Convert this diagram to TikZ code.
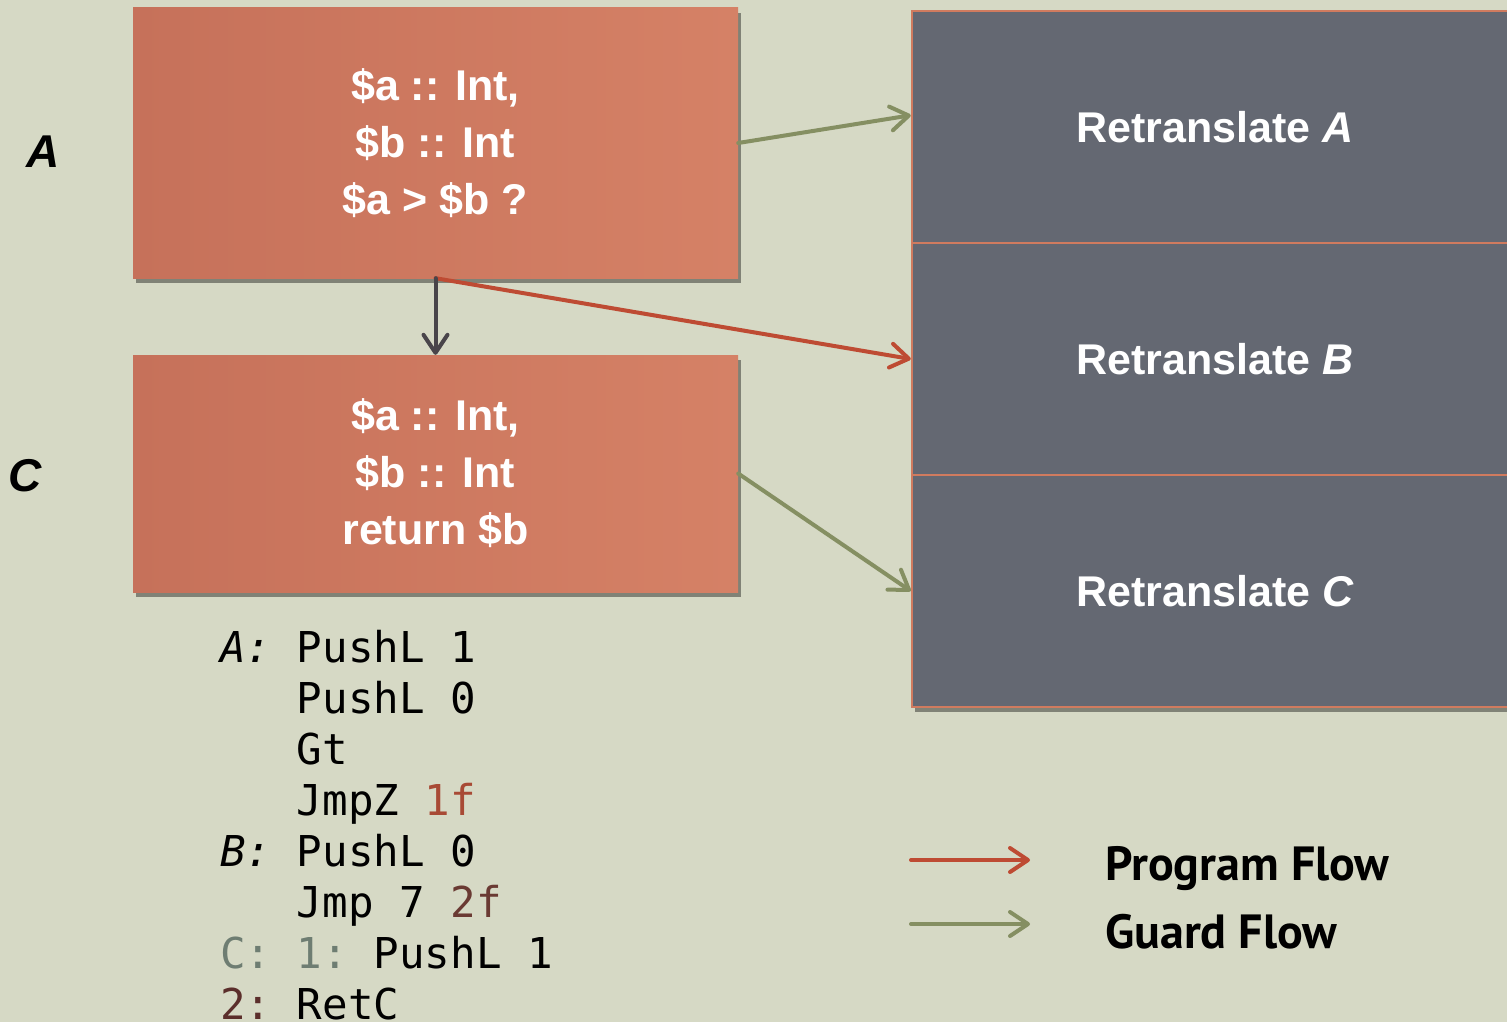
\documentclass[tikz,border=0pt]{standalone}
\usepackage{fontspec}
\setsansfont{PT Sans}
\newfontfamily\codefont{DejaVu Sans Mono}
\newfontfamily\labfont{Liberation Sans}
\usetikzlibrary{arrows.meta,shadows,calc}
\definecolor{bg}{HTML}{D6D9C5}
\definecolor{orL}{HTML}{C6715A}
\definecolor{orR}{HTML}{D58166}
\definecolor{slate}{HTML}{646872}
\definecolor{slateborder}{HTML}{D07B5F}
\definecolor{progred}{HTML}{BE4B33}
\definecolor{guardgreen}{HTML}{858F62}
\definecolor{downgray}{HTML}{49454A}
\definecolor{codered}{HTML}{A84A35}
\definecolor{codebrown}{HTML}{6A3A33}
\definecolor{codegray}{HTML}{6E7D72}
\definecolor{codebrown2}{HTML}{5B2E2B}
\tikzset{
  orbox/.style={rectangle, left color=orL, right color=orR, draw=none,
    minimum width=605pt, text=white, align=center,
    font=\labfont\bfseries\fontsize{43}{57}\selectfont,
    drop shadow={shadow xshift=3pt, shadow yshift=-5pt, opacity=0.4, fill=black}},
  rtbox/.style={rectangle, fill=slate, draw=slateborder, line width=2.5pt,
    minimum width=606pt, minimum height=232pt, text=white,
    font=\labfont\bfseries\fontsize{43}{53}\selectfont,
    drop shadow={shadow xshift=3pt, shadow yshift=-5pt, opacity=0.4, fill=black}},
  flow/.style={line width=4pt, line cap=round, -{Straight Barb[length=18pt,width=24pt,round]}},
  prog/.style={flow, draw=progred},
  guard/.style={flow, draw=guardgreen},
  down/.style={flow, draw=downgray},
  code/.style={anchor=base west, inner sep=0pt, font=\codefont\frenchspacing\fontsize{42.5}{51}\selectfont},
  lab/.style={font=\labfont\bfseries\itshape\fontsize{46}{50}\selectfont},
  legend/.style={anchor=base west, inner sep=0pt, font=\sffamily\bfseries\fontsize{48}{52}\selectfont}
}
\begin{document}
\begin{tikzpicture}[x=1pt,y=-1pt]
\fill[bg] (0,0) rectangle (1507,1022);
\useasboundingbox (0,0) rectangle (1507,1022);
\clip (0,0) rectangle (1507,1022);

% left boxes
\node[orbox, minimum height=270pt] (A) at (435.5,143) {\$a :: Int,\\ \$b :: Int\\ \$a > \$b ?};
\node[orbox, minimum height=237pt] (C) at (435.5,473.5) {\$a :: Int,\\ \$b :: Int\\ return \$b};

% right boxes
\node[rtbox] (RA) at (1215,127) {Retranslate \textit{A}};
\node[rtbox] (RB) at (1215,359) {Retranslate \textit{B}};
\node[rtbox] (RC) at (1215,591) {Retranslate \textit{C}};

% labels
\node[lab] (LA) at (43,152) {A};
\node[lab] (LC) at (25,476) {C};

% connectors
\draw[guard] (A.east) -- ($(RA.north west)!0.45!(RA.south west)$);
\draw[prog] (A.south) -- (RB.west);
\draw[down] (A.south) -- (C.north);
\draw[guard] (C.east) -- (RC.west);

% code
\node[code] (c1) at (220,662) {{\itshape A:}\ PushL 1};
\node[code] (c2) at (220,713) {\phantom{A:}\ PushL 0};
\node[code] (c3) at (220,764) {\phantom{A:}\ Gt};
\node[code] (c4) at (220,815) {\phantom{A:}\ JmpZ \textcolor{codered}{1f}};
\node[code] (c5) at (220,866) {{\itshape B:}\ PushL 0};
\node[code] (c6) at (220,917) {\phantom{A:}\ Jmp 7 \textcolor{codebrown}{2f}};
\node[code] (c7) at (220,968) {\textcolor{codegray}{C:\ 1:}\ PushL 1};
\node[code] (c8) at (220,1019) {\textcolor{codebrown2}{2:}\ RetC};

% legend
\coordinate (p1) at (911,860);
\coordinate (p2) at (1030,860);
\coordinate (g1) at (911,924);
\coordinate (g2) at (1030,924);
\draw[prog] (p1) -- (p2);
\draw[guard] (g1) -- (g2);
\node[legend] (lp) at (1105,880) {Program Flow};
\node[legend] (lg) at (1105,948) {Guard Flow};
\end{tikzpicture}
\end{document}
